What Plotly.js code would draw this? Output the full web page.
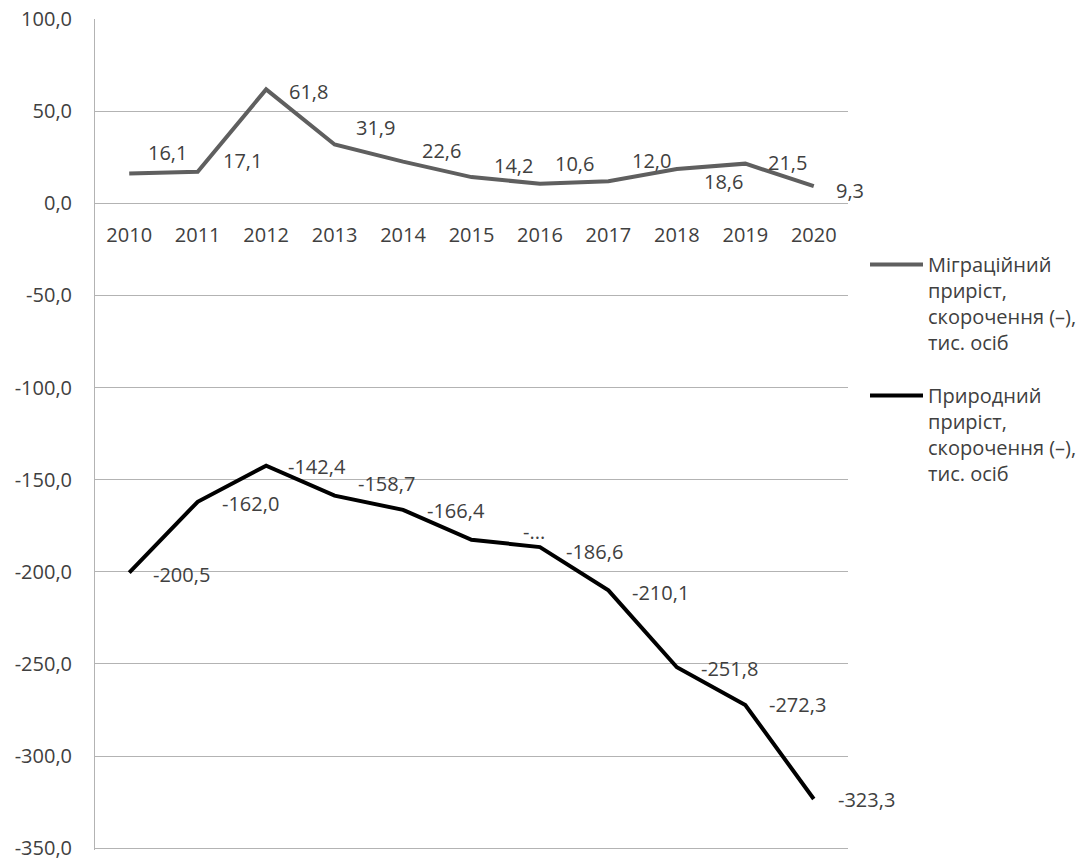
<!DOCTYPE html>
<html>
<head>
<meta charset="utf-8">
<script src="https://cdn.plot.ly/plotly-3.0.1.min.js"></script>
<style>
html,body{margin:0;padding:0;background:#fff;}
#chart{width:1083px;height:861px;}
</style>
</head>
<body>
<div id="chart"></div>
<script>
var years = ['2010','2011','2012','2013','2014','2015','2016','2017','2018','2019','2020'];
var migration = [16.1, 17.1, 61.8, 31.9, 22.6, 14.2, 10.6, 12.0, 18.6, 21.5, 9.3];
var natural = [-200.5, -162.0, -142.4, -158.7, -166.4, -182.6, -186.6, -210.1, -251.8, -272.3, -323.3];
var migrationLabels = ['16,1','17,1','61,8','31,9','22,6','14,2','10,6','12,0','18,6','21,5','9,3'];
var naturalLabels = ['-200,5','-162,0','-142,4','-158,7','-166,4','-...','-186,6','-210,1','-251,8','-272,3','-323,3'];
var yTickVals = [100, 50, 0, -50, -100, -150, -200, -250, -300, -350];
var yTickLabels = ['100,0','50,0','0,0','-50,0','-100,0','-150,0','-200,0','-250,0','-300,0','-350,0'];
var seriesNames = ['Міграційний<br>приріст,<br>скорочення (–),<br>тис. осіб',
                   'Природний<br>приріст,<br>скорочення (–),<br>тис. осіб'];

// label offsets (style only, pixels)
var migDx = [38,45,42,41,38,42,35,43,47,42,36];
var migDy = [-21,-11,2,-17,-11,-12,-20,-21,13,-1,4];
var natDx = [52,53,51,52,53,62,55,52,53,52,53];
var natDy = [2,2,1,-12,1,-8,4,2,1,0,1];

var FONT = 'Open Sans, sans-serif';
var TXT = '#404040';

var traces = [
  {x: years, y: migration, type: 'scatter', mode: 'lines', name: seriesNames[0],
   legendgroup: 'a', line: {color: '#5f5f5f', width: 4}, hoverinfo: 'skip'},
  {x: years, y: natural, type: 'scatter', mode: 'lines', name: seriesNames[1],
   legendgroup: 'b', line: {color: '#000000', width: 4}, hoverinfo: 'skip'}
];

var annotations = [];
years.forEach(function(yr, i){
  annotations.push({x: i, y: migration[i], xref: 'x', yref: 'y', text: migrationLabels[i],
    showarrow: false, xanchor: 'center', yanchor: 'middle', xshift: migDx[i], yshift: -migDy[i],
    font: {family: FONT, size: 20, color: TXT}});
  annotations.push({x: i, y: natural[i], xref: 'x', yref: 'y', text: naturalLabels[i],
    showarrow: false, xanchor: 'center', yanchor: 'middle', xshift: natDx[i], yshift: -natDy[i],
    font: {family: FONT, size: 20, color: TXT}});
});

var yMin = -351, yMax = 100;
var zeroFrac = (0 - yMin) / (yMax - yMin);

var layout = {
  width: 1083, height: 861,
  margin: {l: 95, r: 235, t: 19, b: 11, pad: 0, autoexpand: false},
  paper_bgcolor: '#ffffff', plot_bgcolor: '#ffffff',
  font: {family: FONT, size: 20, color: TXT},
  showlegend: true,
  xaxis: {
    type: 'category', range: [-0.5, 10.5], anchor: 'free', position: zeroFrac,
    showgrid: false, zeroline: false, showline: false, ticks: '',
    ticklabelstandoff: 18,
    tickfont: {family: FONT, size: 20, color: TXT}, fixedrange: true
  },
  yaxis: {
    range: [yMin, yMax], tickvals: yTickVals, ticktext: yTickLabels,
    showgrid: true, gridcolor: '#b3b3b3', gridwidth: 1,
    zeroline: false, showline: true, linecolor: '#b3b3b3', linewidth: 1,
    ticks: '', ticklabelstandoff: 18, ticklabeloverflow: 'allow',
    tickfont: {family: FONT, size: 20, color: TXT}, fixedrange: true
  },
  legend: {
    xref: 'container', yref: 'container',
    x: 865 / 1083, xanchor: 'left', y: 1 - 245 / 861, yanchor: 'top',
    valign: 'top', traceorder: 'grouped', tracegroupgap: 24,
    font: {family: FONT, size: 20, color: TXT},
    bgcolor: 'rgba(0,0,0,0)', itemwidth: 53
  },
  annotations: annotations
};

Plotly.newPlot('chart', traces, layout, {displayModeBar: false, staticPlot: true});
</script>
</body>
</html>
